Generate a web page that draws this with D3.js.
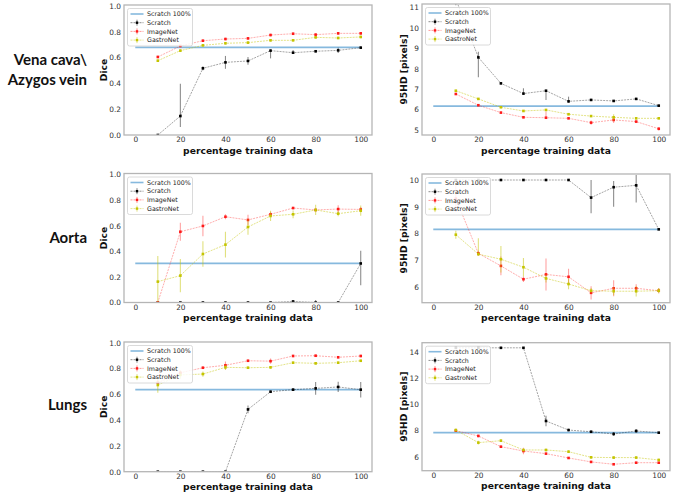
<!DOCTYPE html>
<html><head><meta charset="utf-8">
<script src="https://cdn.jsdelivr.net/npm/d3@7"></script>
<style>
body{margin:0;background:#fff;}
svg{display:block;font-family:"DejaVu Sans",sans-serif;}
</style></head><body>
<svg id="chart" width="676" height="494"></svg>
<script>
// ---------- data ----------
const xPct = [10,20,30,40,50,60,70,80,90,100];
const xTicks = [0,20,40,60,80,100];
const diceTicks = [0,0.2,0.4,0.6,0.8,1.0];
const hdTicksVC = [5,6,7,8,9,10,11];
const hdTicksAorta = [6,7,8,9,10];
const hdTicksLungs = [6,8,10,12,14];
const rowLabels = [["Vena cava\\","Azygos vein"],["Aorta"],["Lungs"]];
const seriesNames = ["Scratch 100%","Scratch","ImageNet","GastroNet"];

// Vena cava / Azygos vein — Dice
const vcDiceBase = 0.68;
const vcDiceScratch = [0.0,0.147,0.517,0.563,0.574,0.654,0.638,0.649,0.656,0.677];
const vcDiceScratchErr = [0,[0.085,0.25],0.015,0.05,0.03,[0.06,0.01],[0.01,0.02],0.01,0.02,0.01];
const vcDiceImageNet = [0.605,0.69,0.731,0.744,0.749,0.775,0.785,0.778,0.788,0.788];
const vcDiceImageNetErr = [0.01,0.01,0.01,0.01,0.01,0.01,0.01,0.01,0.01,0.01];
const vcDiceGastro = [0.576,0.654,0.695,0.711,0.716,0.734,0.734,0.757,0.752,0.760];
const vcDiceGastroErr = [0.01,0.01,0.01,0.01,0.01,0.01,0.01,0.01,0.01,0.01];

// Vena cava / Azygos vein — 95HD
const vcHdBase = 6.17;
const vcHdScratch = [11.4,8.55,7.28,6.78,6.92,6.40,6.47,6.42,6.52,6.19];
const vcHdScratchErr = [0.3,[0.97,0.28],0.05,[0.07,0.26],[0.45,0.02],[0.07,0.23],0.05,0.04,0.05,0.05];
const vcHdImageNet = [6.76,6.21,5.85,5.62,5.60,5.57,5.36,5.49,5.41,5.06];
const vcHdImageNetErr = [0.04,0.04,0.04,0.04,[0.04,0.3],0.04,0.1,0.15,0.04,0.08];
const vcHdGastro = [6.92,6.52,6.11,5.93,5.98,5.77,5.68,5.62,5.57,5.57];
const vcHdGastroErr = [0.04,0.04,0.04,0.04,0.04,0.04,0.04,0.15,0.04,0.04];

// Aorta — Dice
const aoDiceBase = 0.306;
const aoDiceScratch = [0,0,0,0,0,0,0.008,0,0,0.305];
const aoDiceScratchErr = [0,0,0,0,0,0,0.01,0.02,0,[0.17,0.1]];
const aoDiceImageNet = [0.0,0.553,0.598,0.67,0.645,0.689,0.738,0.723,0.730,0.727];
const aoDiceImageNetErr = [0,0.07,0.08,0.02,0.04,0.02,0.01,0.01,0.03,0.02];
const aoDiceGastro = [0.163,0.21,0.379,0.452,0.59,0.676,0.689,0.723,0.694,0.717];
const aoDiceGastroErr = [0.2,0.13,0.1,0.1,0.06,0.04,0.03,0.04,0.02,0.04];

// Aorta — 95HD
const aoHdBase = 8.15;
const aoHdScratch = [10,10,10,10,10,10,9.34,9.73,9.80,8.15];
const aoHdScratchErr = [0,0,0,0,0,0,[0.59,0.66],[0.73,0.23],[0.64,0.39],0];
const aoHdImageNet = [9.3,7.25,6.78,6.28,6.46,6.37,5.77,5.94,5.94,5.85];
const aoHdImageNetErr = [0.5,0.1,0.35,0.1,0.6,0.3,0.25,0.3,0.15,0.1];
const aoHdGastro = [7.95,7.22,7.03,6.73,6.31,6.10,5.85,5.83,5.83,5.85];
const aoHdGastroErr = [0.15,[0.05,0.6],0.5,0.35,0.15,0.2,0.1,0.15,0.2,0.1];

// Lungs — Dice
const luDiceBase = 0.636;
const luDiceScratch = [0,0,0,0,0.483,0.62,0.636,0.646,0.657,0.636];
const luDiceScratchErr = [0,0,0,0,0.03,0.01,0.01,0.05,0.04,0.06];
const luDiceImageNet = [0.69,0.767,0.806,0.825,0.86,0.857,0.897,0.899,0.887,0.897];
const luDiceImageNetErr = [0.02,0.02,0.01,0.03,0.01,0.02,0.01,0.01,0.01,0.01];
const luDiceGastro = [0.672,0.75,0.757,0.809,0.806,0.809,0.845,0.84,0.845,0.86];
const luDiceGastroErr = [0.06,0.03,0.02,0.02,0.01,0.01,0.01,0.01,0.01,0.01];

// Lungs — 95HD
const luHdBase = 7.83;
const luHdScratch = [14.3,14.3,14.3,14.3,8.72,8.03,7.90,7.73,7.96,7.83];
const luHdScratchErr = [0,0,0,0,0.4,0.1,0.1,0.15,0.15,0.05];
const luHdImageNet = [7.98,7.58,6.76,6.43,6.23,5.90,5.60,5.42,5.54,5.54];
const luHdImageNetErr = [0.1,0.1,0.1,0.25,0.05,0.05,0.05,0.05,0.05,0.05];
const luHdGastro = [8.03,7.07,7.22,6.51,6.51,6.38,5.95,5.93,5.93,5.75];
const luHdGastroErr = [0.12,0.15,0.1,0.1,0.1,0.1,0.1,0.1,0.1,0.1];

// ---------- styles ----------
const colBase = "#86b9de";
const colScratch = "#000000";
const colImageNet = "#ff1a1a";
const colGastro = "#c4c400";

// ---------- layout ----------
const panels = [
  {x0:124,x1:372,yTop:6,yBot:135,frameTop:5,dom:[0,1],ticks:diceTicks,fmt:d3.format(".1f"),ylab:"Dice",
   base:vcDiceBase,s:[vcDiceScratch,vcDiceScratchErr],i:[vcDiceImageNet,vcDiceImageNetErr],g:[vcDiceGastro,vcDiceGastroErr]},
  {x0:422,x1:670,yTop:4,yBot:135,frameTop:4,dom:[11.16,4.755],ticks:hdTicksVC,fmt:d3.format("d"),ylab:"95HD [pixels]",
   base:vcHdBase,s:[vcHdScratch,vcHdScratchErr],i:[vcHdImageNet,vcHdImageNetErr],g:[vcHdGastro,vcHdGastroErr]},
  {x0:124,x1:372,yTop:174.5,yBot:302.5,frameTop:173.5,dom:[0,1],ticks:diceTicks,fmt:d3.format(".1f"),ylab:"Dice",
   base:aoDiceBase,s:[aoDiceScratch,aoDiceScratchErr],i:[aoDiceImageNet,aoDiceImageNetErr],g:[aoDiceGastro,aoDiceGastroErr]},
  {x0:422,x1:670,yTop:174,yBot:302.7,frameTop:174,dom:[10.225,5.4],ticks:hdTicksAorta,fmt:d3.format("d"),ylab:"95HD [pixels]",
   base:aoHdBase,s:[aoHdScratch,aoHdScratchErr],i:[aoHdImageNet,aoHdImageNetErr],g:[aoHdGastro,aoHdGastroErr]},
  {x0:124,x1:372,yTop:342.7,yBot:471.7,frameTop:342,dom:[0,1],ticks:diceTicks,fmt:d3.format(".1f"),ylab:"Dice",
   base:luDiceBase,s:[luDiceScratch,luDiceScratchErr],i:[luDiceImageNet,luDiceImageNetErr],g:[luDiceGastro,luDiceGastroErr]},
  {x0:422,x1:670,yTop:342.7,yBot:470.7,frameTop:342.7,dom:[14.69,4.93],ticks:hdTicksLungs,fmt:d3.format("d"),ylab:"95HD [pixels]",
   base:luHdBase,s:[luHdScratch,luHdScratchErr],i:[luHdImageNet,luHdImageNetErr],g:[luHdGastro,luHdGastroErr]}
];

const svg = d3.select("#chart");

panels.forEach((p, pi) => {
  const isDice = p.ylab === "Dice";
  const x = d3.scaleLinear().domain([-5,105]).range([p.x0,p.x1]);
  let y;
  if (isDice) y = d3.scaleLinear().domain([0,1]).range([p.yBot,p.yTop]);
  else y = d3.scaleLinear().domain([p.dom[1],p.dom[0]]).range([p.yBot,p.frameTop]);
  const g = svg.append("g");
  const clipId = "clip"+pi;
  g.append("clipPath").attr("id",clipId).append("rect")
    .attr("x",p.x0).attr("y",p.frameTop).attr("width",p.x1-p.x0).attr("height",p.yBot-p.frameTop);

  // axes (labels only, ticks hidden)
  const xa = g.append("g").attr("transform",`translate(0,${p.yBot})`)
    .call(d3.axisBottom(x).tickValues(xTicks).tickSize(0).tickPadding(1.8));
  const ya = g.append("g").attr("transform",`translate(${p.x0},0)`)
    .call(d3.axisLeft(y).tickValues(p.ticks).tickFormat(p.fmt).tickSize(0).tickPadding(3));
  [xa,ya].forEach(a=>{a.select(".domain").remove();
    a.selectAll("text").attr("font-size",7.4).attr("fill","#333").attr("font-family","DejaVu Sans");});

  // axis labels
  g.append("text").attr("x",(p.x0+p.x1)/2).attr("y",p.yBot+18.6).attr("text-anchor","middle")
    .attr("font-size",9.2).attr("font-weight","bold").attr("fill","#111").text("percentage training data");
  const ylx = isDice ? 104 : 403.8;
  g.append("text").attr("transform",`translate(${ylx},${(p.frameTop+p.yBot)/2}) rotate(-90)`)
    .attr("text-anchor","middle").attr("dy","0.36em")
    .attr("font-size",9.2).attr("font-weight","bold").attr("fill","#111").text(p.ylab);

  const plot = g.append("g").attr("clip-path",`url(#${clipId})`);

  // baseline
  plot.append("line").attr("x1",x(0)).attr("x2",x(100)).attr("y1",y(p.base)).attr("y2",y(p.base))
    .attr("stroke",colBase).attr("stroke-width",1.8);

  const drawSeries = (vals, errs, col, lineOp, errOp) => {
    const pts = xPct.map((xx,k)=>({x:xx,y:vals[k],e:errs[k]}));
    plot.append("path").datum(pts)
      .attr("d",d3.line().x(d=>x(d.x)).y(d=>y(d.y)))
      .attr("fill","none").attr("stroke",col).attr("stroke-opacity",lineOp)
      .attr("stroke-width",0.8).attr("stroke-dasharray","2,1");
    plot.selectAll(null).data(pts).enter().append("line")
      .attr("x1",d=>x(d.x)).attr("x2",d=>x(d.x))
      .attr("y1",d=>{const lo=Array.isArray(d.e)?d.e[0]:d.e;return y(d.y-lo);})
      .attr("y2",d=>{const hi=Array.isArray(d.e)?d.e[1]:d.e;return y(d.y+hi);})
      .attr("stroke",col).attr("stroke-opacity",errOp).attr("stroke-width",1.1);
    plot.selectAll(null).data(pts).enter().append("rect")
      .attr("x",d=>x(d.x)-1.3).attr("y",d=>y(d.y)-1.3).attr("width",2.6).attr("height",2.6)
      .attr("fill",col);
  };
  drawSeries(p.s[0],p.s[1],colScratch,0.45,0.45);
  drawSeries(p.i[0],p.i[1],colImageNet,0.45,0.4);
  drawSeries(p.g[0],p.g[1],colGastro,0.6,0.5);

  // frame
  g.append("rect").attr("x",p.x0).attr("y",p.frameTop).attr("width",p.x1-p.x0).attr("height",p.yBot-p.frameTop)
    .attr("fill","none").attr("stroke","#b5b5b5").attr("stroke-width",1.3);

  // legend
  const lx = p.x0+3.5, ly = p.frameTop+3.5;
  const lg = g.append("g");
  lg.append("rect").attr("x",lx).attr("y",ly).attr("width",65).attr("height",37.5).attr("rx",2)
    .attr("fill","#fff").attr("fill-opacity",0.85).attr("stroke","#d0d0d0").attr("stroke-width",0.8);
  const lcols = [colBase,colScratch,colImageNet,colGastro];
  seriesNames.forEach((nm,k)=>{
    const yy = ly+5.5+k*8.7;
    if (k===0){
      lg.append("line").attr("x1",lx+3).attr("x2",lx+16).attr("y1",yy).attr("y2",yy)
        .attr("stroke",colBase).attr("stroke-width",1.6);
    } else {
      lg.append("line").attr("x1",lx+3).attr("x2",lx+16).attr("y1",yy).attr("y2",yy)
        .attr("stroke",lcols[k]).attr("stroke-opacity",0.5).attr("stroke-width",0.9).attr("stroke-dasharray","2,1");
      lg.append("line").attr("x1",lx+9.5).attr("x2",lx+9.5).attr("y1",yy-3).attr("y2",yy+3)
        .attr("stroke",lcols[k]).attr("stroke-opacity",0.5).attr("stroke-width",1);
      lg.append("rect").attr("x",lx+8.3).attr("y",yy-1.2).attr("width",2.4).attr("height",2.4).attr("fill",lcols[k]);
    }
    lg.append("text").attr("x",lx+19.5).attr("y",yy).attr("dy","0.35em")
      .attr("font-size",6.3).attr("fill","#222").text(nm);
  });
});

// row labels
const rowY = [[64.5,85],[243],[410]];
rowLabels.forEach((lines,r)=>{
  lines.forEach((t,k)=>{
    svg.append("text").attr("x",87).attr("y",rowY[r][k]).attr("text-anchor","end")
      .attr("font-family","Lato, 'Liberation Sans', sans-serif").attr("font-weight","bold")
      .attr("font-size",15).attr("fill","#111").text(t);
  });
});
</script></body></html>
